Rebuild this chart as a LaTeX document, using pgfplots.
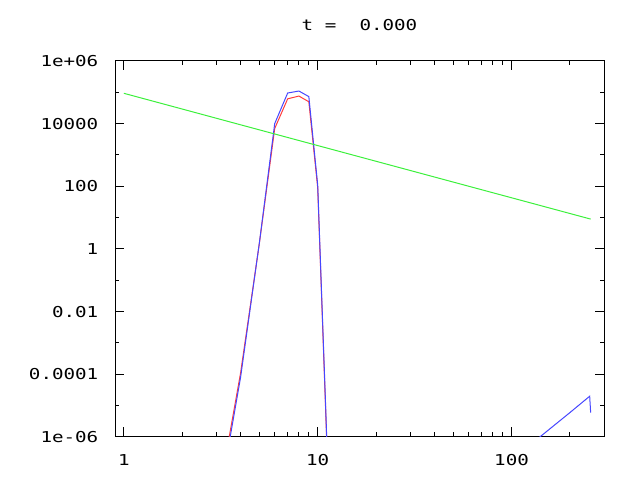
\documentclass[border=0pt]{standalone}
\usepackage{fontspec}
\newfontfamily\gfont[FakeStretch=1.28]{DejaVu Sans Mono}
\usepackage{pgfplots}
\pgfplotsset{compat=1.18}
\definecolor{gred}{RGB}{255,60,60}
\definecolor{ggreen}{RGB}{60,240,60}
\definecolor{gblue}{RGB}{70,70,255}
\begin{document}
\begin{tikzpicture}[x=1bp,y=1bp]
\useasboundingbox (0,0) rectangle (640,480);
\begin{axis}[
  at={(115bp,43bp)}, anchor=south west,
  scale only axis, width=489bp, height=376bp,
  xmode=log, ymode=log,
  xmin=0.9, xmax=300, ymin=1e-6, ymax=1e6,
  xtick={1,10,100},
  xticklabels={\mbox{1},\mbox{10},\mbox{100}},
  minor xtick={2,3,4,5,6,7,8,9,20,30,40,50,60,70,80,90,200},
  ytick={1e-6,1e-4,0.01,1,100,1e4,1e6},
  yticklabels={\mbox{1e-06},\mbox{0.0001},\mbox{0.01},\mbox{1},\mbox{100},\mbox{10000},\mbox{1e+06}},
  minor ytick={1e-5,1e-3,0.1,10,1000,1e5},
  tick align=inside,
  major tick length=9.5bp, minor tick length=4.5bp,
  tick style={black, line width=1bp},
  axis line style={black, line width=1bp},
  ticklabel style={font=\gfont\fontsize{15bp}{18bp}\selectfont, inner sep=0pt},
  xticklabel style={anchor=center, yshift=-23bp},
  yticklabel style={anchor=east, xshift=-16.5bp},
  title={t~=~~0.000},
  title style={at={(0.5,1)}, anchor=center, yshift=30bp, inner sep=0pt,
    font=\gfont\fontsize{15bp}{18bp}\selectfont},
  clip=true,
]
\addplot[gred, line width=1bp, mark=none] coordinates {
 (3,5e-9) (4,1.1e-4) (5,1.5) (6,7000) (7,6.2e4) (8,7.6e4) (9,5e4) (10,90) (11,6e-6) (12,1e-12)
};
\addplot[gblue, line width=1bp, mark=none] coordinates {
 (3,3e-9) (4,8e-5) (5,1.55) (6,1e4) (7,9.5e4) (8,1.1e5) (9,7.3e4) (10,110) (11,8e-6) (12,1e-12)
};
\addplot[gblue, line width=1bp, mark=none] coordinates {
 (128,6.4e-7) (200,6e-6) (253,2e-5) (256,6e-6)
};
\addplot[ggreen, line width=1bp, mark=none] coordinates {
 (1,9.3e4) (2,2.93e4) (4,9.2e3) (8,2.9e3) (16,914) (32,288) (64,90.7) (128,28.6) (256,9.0)
};
\end{axis}
\end{tikzpicture}
\end{document}
